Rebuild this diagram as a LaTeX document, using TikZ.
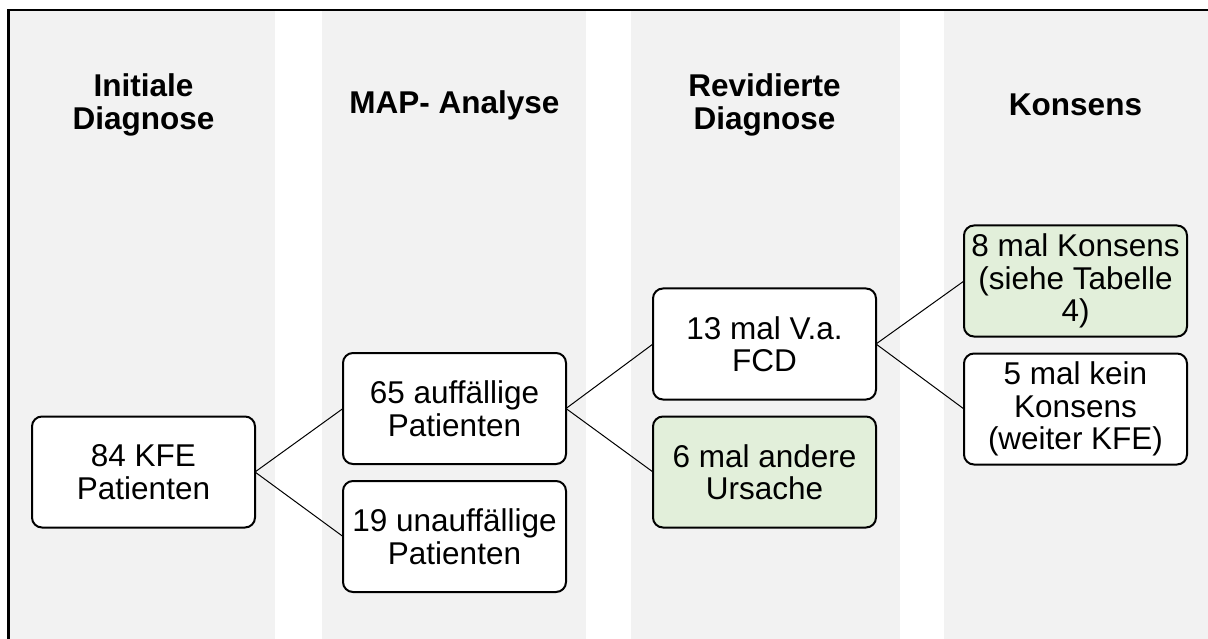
\documentclass[tikz,border=0pt]{standalone}
\usepackage{fontspec}
\setmainfont{Liberation Sans}
\usetikzlibrary{positioning}

\definecolor{colgray}{RGB}{242,242,242}
\definecolor{boxgreen}{RGB}{226,239,218}

\begin{document}
\begin{tikzpicture}[x=1pt,y=1pt,yscale=-1,xscale=1,
  box/.style = {draw, rounded corners=10pt, line width=2pt, fill=white,
  minimum width=223pt, minimum height=111pt, inner sep=0pt, outer sep=0pt,
  align=center, font=\fontsize{31.5}{32.5}\selectfont},
  good/.style = {box, fill=boxgreen},
  head/.style = {align=center, font=\fontsize{31.5}{32.5}\selectfont\bfseries},
  link/.style = {line width=1pt},
  node distance=17pt
  ]

  \useasboundingbox (0,0) rectangle (1208,639);
  \clip (0,0) rectangle (1208,639);

  % gray columns and frame
  \foreach \xa/\xb in {9/275, 322/586, 631/900, 944/1230}
    \fill[colgray] (\xa,10) rectangle (\xb,660);
  \draw[line width=2.5pt] (8.5,660) |- (1230,10);

  % column heads
  \node[head] (h1) at (143.5,105) {Initiale\\Diagnose};
  \node[head] (h2) at (454.5,105) {MAP- Analyse};
  \node[head] (h3) at (764.5,105) {Revidierte\\Diagnose};
  \node[head] (h4) at (1075.5,105) {Konsens};

  \node[box] (k84) at (143.5,472) {84 KFE\\Patienten};
  \node[box] (a65) at (454.5,408.5) {65 auffällige\\Patienten};
  \node[box] (u19) [below=of a65] {19 unauffällige\\Patienten};
  \node[box] (v13) at (764.5,344) {13 mal V.a.\\FCD};
  \node[good] (o6) [below=of v13] {6 mal andere\\Ursache};
  \node[good] (k8) at (1075.5,281) {8 mal Konsens\\(siehe Tabelle\\4)};
  \node[box] (n5) [below=of k8] {5 mal kein\\Konsens\\(weiter KFE)};

  \draw[link] (k84.east) -- (a65.west);
  \draw[link] (k84.east) -- (u19.west);
  \draw[link] (a65.east) -- (v13.west);
  \draw[link] (a65.east) -- (o6.west);
  \draw[link] (v13.east) -- (k8.west);
  \draw[link] (v13.east) -- (n5.west);

\end{tikzpicture}
\end{document}
